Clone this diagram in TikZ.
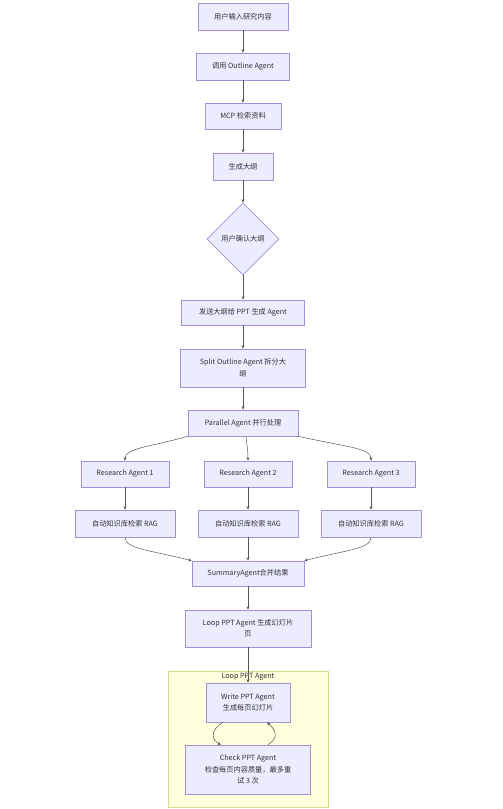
\documentclass[tikz,border=0pt]{standalone}
\usepackage{fontspec}
\setmainfont{Noto Sans CJK SC}
\usetikzlibrary{shapes.geometric,arrows.meta}
\definecolor{nodefill}{HTML}{ECECFF}
\definecolor{nodeline}{HTML}{A48FD8}
\definecolor{edgecol}{HTML}{555555}
\definecolor{textcol}{HTML}{333333}
\definecolor{clusterfill}{HTML}{FFFFDE}
\definecolor{clusterline}{HTML}{D8D88A}
\begin{document}
\begin{tikzpicture}[x=1pt,y=-1pt,
  box/.style={rectangle,draw=nodeline,fill=nodefill,line width=0.6pt,inner sep=0pt,
    font=\fontsize{7.2}{11.5}\selectfont,text=textcol,align=center},
  dia/.style={diamond,draw=nodeline,fill=nodefill,line width=0.6pt,inner sep=0pt,
    minimum width=72pt,minimum height=72pt,font=\fontsize{7.2}{9.5}\selectfont,text=textcol},
  conn/.style={draw=edgecol,line width=0.5pt,-{Stealth[length=3.5pt,width=3pt]}}]
\useasboundingbox (0,0) rectangle (503,809);
% cluster
\node[draw=clusterline,fill=clusterfill,line width=0.6pt,minimum width=160pt,minimum height=136pt,inner sep=0pt] (cl) at (248,739) {};
\node[font=\fontsize{7.2}{9}\selectfont,text=textcol] (cltitle) at (248,677) {Loop PPT Agent};
% nodes
\node[box,minimum width=90pt,minimum height=27pt] (n1) at (243,16.5) {用户输入研究内容};
\node[box,minimum width=93pt,minimum height=27pt] (n2) at (243,66.5) {调用 Outline Agent};
\node[box,minimum width=76pt,minimum height=26pt] (n3) at (243,116) {MCP 检索资料};
\node[box,minimum width=60pt,minimum height=27pt] (n4) at (243,166.5) {生成大纲};
\node[dia] (d) at (243,239) {用户确认大纲};
\node[box,minimum width=123pt,minimum height=25pt] (n5) at (243,312.5) {发送大纲给 PPT 生成 Agent};
\node[box,minimum width=125pt,minimum height=38pt] (n6) at (243,368) {Split Outline Agent 拆分大\\纲};
\node[box,minimum width=110pt,minimum height=26pt] (par) at (243,423) {Parallel Agent 并行处理};
\node[box,minimum width=88pt,minimum height=26pt] (r1) at (125,474) {Research Agent 1};
\node[box,minimum width=88pt,minimum height=26pt] (r2) at (248,474) {Research Agent 2};
\node[box,minimum width=88pt,minimum height=26pt] (r3) at (371,474) {Research Agent 3};
\node[box,minimum width=100pt,minimum height=27pt] (g1) at (125,523.5) {自动知识库检索 RAG};
\node[box,minimum width=100pt,minimum height=27pt] (g2) at (248,523.5) {自动知识库检索 RAG};
\node[box,minimum width=100pt,minimum height=27pt] (g3) at (371,523.5) {自动知识库检索 RAG};
\node[box,minimum width=112pt,minimum height=25pt] (sum) at (248,573.5) {SummaryAgent合并结果};
\node[box,minimum width=126pt,minimum height=37pt] (loop) at (248,628.5) {Loop PPT Agent 生成幻灯片\\页};
\node[box,minimum width=84pt,minimum height=39pt] (w) at (248,702.5) {Write PPT Agent\\生成每页幻灯片};
\node[box,minimum width=125pt,minimum height=49pt] (c) at (248,769.5) {Check PPT Agent\\检查每页内容质量，最多重\\试 3 次};
% edges
\draw[conn] (n1) -- (n2);
\draw[conn] (n2) -- (n3);
\draw[conn] (n3) -- (n4);
\draw[conn] (n4) -- (d);
\draw[conn] (d) -- (n5);
\draw[conn] (n5) -- (n6);
\draw[conn] (n6) -- (par);
\draw[conn] (par.south west) .. controls (150,447) and (125,448) .. (r1.north);
\draw[conn] ([xshift=3pt]par.south) .. controls (247,447) and (248,450) .. (r2.north);
\draw[conn] (par.south east) .. controls (346,447) and (371,448) .. (r3.north);
\draw[conn] (r1) -- (g1);
\draw[conn] (r2) -- (g2);
\draw[conn] (r3) -- (g3);
\draw[conn] (g1.south) .. controls (125,549) and (150,550) .. (sum.north west);
\draw[conn] (g2) -- (sum);
\draw[conn] (g3.south) .. controls (371,549) and (346,550) .. (sum.north east);
\draw[conn] (sum) -- (loop);
\draw[conn] (loop) -- (w);
\draw[conn] ([xshift=-25pt]w.south) .. controls (209,731) and (212,740) .. ([xshift=-27pt]c.north);
\draw[conn] ([xshift=20pt]c.north) .. controls (279,738) and (276,730) .. ([xshift=19pt]w.south);
\end{tikzpicture}
\end{document}
